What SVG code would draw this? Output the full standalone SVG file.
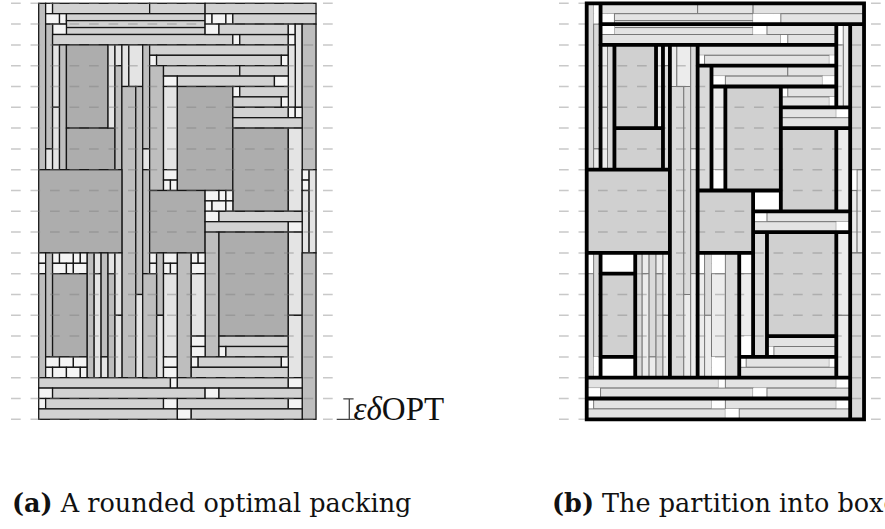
<svg xmlns="http://www.w3.org/2000/svg" xmlns:xlink="http://www.w3.org/1999/xlink" width="885" height="529" viewBox="0 0 885 529">
<style>
.D,.M,.H,.V{stroke:var(--ln);stroke-width:var(--lw)}
.D{fill:var(--d)}
.M{fill:var(--m)}
.H{fill:var(--h)}
.V{fill:var(--v)}
.S{fill:var(--s);stroke:var(--sl);stroke-width:var(--lw)}
.pa{--d:#adadad;--m:#bebebe;--h:#d2d2d2;--v:#e4e4e4;--s:#f4f4f4;--ln:#151515;--sl:#151515;--lw:0.37}
.pb{--d:#d0d0d0;--m:#dadada;--h:#e3e3e3;--v:#ececec;--s:#ffffff;--ln:#767676;--sl:none;--lw:0.28}
.grid{fill:none;stroke:#7f7f7f;stroke-opacity:0.42;stroke-width:1.5;stroke-dasharray:9.7 9.8}
.box{fill:none;stroke:#000;stroke-width:1.1;stroke-linecap:square}
.cap{font-family:"DejaVu Serif",serif;font-size:25.5px;fill:#111}
</style>
<defs>
<!-- item layout in grid units: 80 x 120 container, one unit = 3.4667 px -->
<g id="items">
<rect class="M" x="0" y="0" width="2" height="48"/>
<rect class="S" x="2" y="0" width="2" height="3"/>
<rect class="H" x="4" y="0" width="28" height="3"/>
<rect class="H" x="32" y="0" width="16" height="3"/>
<rect class="H" x="48" y="0" width="32" height="3"/>
<rect class="S" x="2" y="3" width="4" height="3"/>
<rect class="S" x="6" y="3" width="2" height="3"/>
<rect class="H" x="8" y="3" width="40" height="2"/>
<rect class="H" x="8" y="5" width="40" height="2"/>
<rect class="H" x="8" y="7" width="40" height="2"/>
<rect class="S" x="4" y="6" width="4" height="3"/>
<rect class="M" x="2" y="6" width="2" height="36"/>
<rect class="V" x="2" y="42" width="2" height="6"/>
<rect class="H" x="4" y="9" width="52" height="3"/>
<rect class="S" x="56" y="9" width="2" height="3"/>
<rect class="H" x="58" y="9" width="14" height="3"/>
<rect class="S" x="72" y="9" width="2" height="3"/>
<rect class="S" x="48" y="3" width="2" height="3"/>
<rect class="S" x="50" y="3" width="4" height="3"/>
<rect class="S" x="54" y="3" width="2" height="3"/>
<rect class="H" x="56" y="3" width="24" height="3"/>
<rect class="S" x="48" y="6" width="4" height="3"/>
<rect class="H" x="52" y="6" width="20" height="3"/>
<rect class="S" x="72" y="6" width="2" height="3"/>
<rect class="V" x="74" y="6" width="2" height="24"/>
<rect class="M" x="76" y="6" width="4" height="42"/>
<rect class="V" x="4" y="12" width="2" height="18"/>
<rect class="V" x="4" y="30" width="2" height="18"/>
<rect class="M" x="6" y="12" width="2" height="36"/>
<rect class="D" x="8" y="12" width="12" height="24"/>
<rect class="D" x="8" y="36" width="14" height="12"/>
<rect class="V" x="20" y="12" width="2" height="24"/>
<rect class="V" x="22" y="12" width="2" height="6"/>
<rect class="M" x="22" y="18" width="2" height="30"/>
<rect class="V" x="24" y="12" width="2" height="12"/>
<rect class="V" x="26" y="12" width="4" height="12"/>
<rect class="M" x="24" y="24" width="4" height="84"/>
<rect class="M" x="28" y="24" width="2" height="60"/>
<rect class="V" x="28" y="84" width="2" height="24"/>
<rect class="M" x="30" y="12" width="2" height="30"/>
<rect class="V" x="30" y="42" width="2" height="6"/>
<rect class="M" x="30" y="48" width="2" height="30"/>
<rect class="H" x="32" y="12" width="40" height="3"/>
<rect class="S" x="32" y="15" width="2" height="3"/>
<rect class="H" x="34" y="15" width="36" height="3"/>
<rect class="S" x="70" y="15" width="2" height="3"/>
<rect class="V" x="72" y="12" width="2" height="18"/>
<rect class="M" x="32" y="18" width="4" height="36"/>
<rect class="H" x="36" y="18" width="22" height="3"/>
<rect class="H" x="58" y="18" width="14" height="3"/>
<rect class="S" x="36" y="21" width="4" height="3"/>
<rect class="H" x="40" y="21" width="28" height="3"/>
<rect class="S" x="68" y="21" width="4" height="3"/>
<rect class="V" x="36" y="24" width="4" height="24"/>
<rect class="S" x="36" y="48" width="4" height="3"/>
<rect class="S" x="36" y="51" width="2" height="3"/>
<rect class="S" x="38" y="51" width="2" height="3"/>
<rect class="D" x="40" y="24" width="16" height="30"/>
<rect class="S" x="56" y="24" width="2" height="3"/>
<rect class="H" x="58" y="24" width="14" height="3"/>
<rect class="H" x="56" y="27" width="14" height="3"/>
<rect class="S" x="70" y="27" width="2" height="3"/>
<rect class="H" x="56" y="30" width="16" height="3"/>
<rect class="S" x="72" y="30" width="2" height="3"/>
<rect class="S" x="74" y="30" width="2" height="3"/>
<rect class="H" x="56" y="33" width="20" height="3"/>
<rect class="D" x="56" y="36" width="16" height="24"/>
<rect class="V" x="72" y="36" width="4" height="24"/>
<rect class="S" x="76" y="48" width="2" height="3"/>
<rect class="S" x="76" y="51" width="2" height="3"/>
<rect class="V" x="76" y="54" width="2" height="18"/>
<rect class="V" x="78" y="48" width="2" height="24"/>
<rect class="D" x="0" y="48" width="24" height="24"/>
<rect class="D" x="32" y="54" width="16" height="18"/>
<rect class="S" x="48" y="54" width="4" height="3"/>
<rect class="S" x="52" y="54" width="2" height="3"/>
<rect class="S" x="54" y="54" width="2" height="3"/>
<rect class="S" x="48" y="57" width="2" height="3"/>
<rect class="S" x="50" y="57" width="4" height="3"/>
<rect class="S" x="54" y="57" width="2" height="3"/>
<rect class="S" x="48" y="60" width="4" height="3"/>
<rect class="H" x="52" y="60" width="24" height="3"/>
<rect class="H" x="48" y="63" width="24" height="3"/>
<rect class="S" x="72" y="63" width="4" height="3"/>
<rect class="M" x="48" y="66" width="4" height="36"/>
<rect class="D" x="52" y="66" width="20" height="30"/>
<rect class="H" x="52" y="96" width="20" height="3"/>
<rect class="S" x="52" y="99" width="2" height="3"/>
<rect class="H" x="54" y="99" width="18" height="3"/>
<rect class="V" x="72" y="66" width="4" height="24"/>
<rect class="V" x="72" y="90" width="4" height="18"/>
<rect class="M" x="76" y="72" width="4" height="48"/>
<rect class="S" x="0" y="72" width="2" height="3"/>
<rect class="S" x="0" y="75" width="2" height="3"/>
<rect class="M" x="0" y="78" width="2" height="30"/>
<rect class="M" x="2" y="72" width="2" height="30"/>
<rect class="S" x="4" y="72" width="2" height="3"/>
<rect class="S" x="6" y="72" width="4" height="3"/>
<rect class="S" x="10" y="72" width="2" height="3"/>
<rect class="S" x="12" y="72" width="2" height="3"/>
<rect class="S" x="4" y="75" width="4" height="3"/>
<rect class="S" x="8" y="75" width="2" height="3"/>
<rect class="S" x="10" y="75" width="4" height="3"/>
<rect class="D" x="4" y="78" width="10" height="24"/>
<rect class="S" x="2" y="102" width="4" height="3"/>
<rect class="S" x="6" y="102" width="4" height="3"/>
<rect class="S" x="10" y="102" width="4" height="3"/>
<rect class="S" x="2" y="105" width="2" height="3"/>
<rect class="S" x="4" y="105" width="4" height="3"/>
<rect class="S" x="8" y="105" width="4" height="3"/>
<rect class="S" x="12" y="105" width="2" height="3"/>
<rect class="M" x="14" y="72" width="2" height="36"/>
<rect class="V" x="16" y="72" width="2" height="6"/>
<rect class="V" x="16" y="78" width="2" height="30"/>
<rect class="M" x="18" y="72" width="2" height="30"/>
<rect class="V" x="18" y="102" width="2" height="6"/>
<rect class="V" x="20" y="72" width="2" height="6"/>
<rect class="M" x="20" y="78" width="2" height="30"/>
<rect class="V" x="22" y="72" width="2" height="18"/>
<rect class="V" x="22" y="90" width="2" height="18"/>
<rect class="S" x="32" y="72" width="2" height="3"/>
<rect class="S" x="32" y="75" width="2" height="3"/>
<rect class="M" x="34" y="72" width="2" height="18"/>
<rect class="V" x="34" y="90" width="2" height="18"/>
<rect class="S" x="36" y="72" width="4" height="3"/>
<rect class="S" x="36" y="75" width="2" height="3"/>
<rect class="S" x="38" y="75" width="2" height="3"/>
<rect class="V" x="36" y="78" width="4" height="24"/>
<rect class="S" x="36" y="102" width="4" height="3"/>
<rect class="S" x="36" y="105" width="4" height="3"/>
<rect class="M" x="40" y="72" width="4" height="36"/>
<rect class="S" x="44" y="72" width="2" height="3"/>
<rect class="S" x="46" y="72" width="2" height="3"/>
<rect class="S" x="44" y="75" width="4" height="3"/>
<rect class="V" x="44" y="78" width="4" height="18"/>
<rect class="S" x="44" y="96" width="4" height="3"/>
<rect class="S" x="44" y="99" width="4" height="3"/>
<rect class="S" x="44" y="102" width="2" height="3"/>
<rect class="H" x="46" y="102" width="24" height="3"/>
<rect class="S" x="70" y="102" width="2" height="3"/>
<rect class="H" x="44" y="105" width="28" height="3"/>
<rect class="H" x="0" y="108" width="38" height="3"/>
<rect class="S" x="38" y="108" width="2" height="3"/>
<rect class="H" x="40" y="108" width="32" height="3"/>
<rect class="S" x="72" y="108" width="4" height="3"/>
<rect class="S" x="0" y="111" width="4" height="3"/>
<rect class="H" x="4" y="111" width="44" height="3"/>
<rect class="S" x="48" y="111" width="4" height="3"/>
<rect class="H" x="52" y="111" width="24" height="3"/>
<rect class="S" x="0" y="114" width="2" height="3"/>
<rect class="H" x="2" y="114" width="34" height="3"/>
<rect class="S" x="36" y="114" width="4" height="3"/>
<rect class="H" x="40" y="114" width="32" height="3"/>
<rect class="S" x="72" y="114" width="4" height="3"/>
<rect class="H" x="0" y="117" width="40" height="3"/>
<rect class="S" x="40" y="117" width="4" height="3"/>
<rect class="H" x="44" y="117" width="32" height="3"/>
</g>
<!-- dashed height grid, one line every 6 units -->
<path id="gridlines" d="M0 3.3h322M0 24.1h322M0 44.9h322M0 65.7h322M0 86.5h322M0 107.3h322M0 128.1h322M0 148.9h322M0 169.7h322M0 190.5h322M0 211.3h322M0 232.1h322M0 252.9h322M0 273.7h322M0 294.5h322M0 315.3h322M0 336.1h322M0 356.9h322M0 377.7h322M0 398.5h322M0 419.3h322"/>
</defs>

<!-- (a) rounded optimal packing -->
<g id="packing-a">
<g transform="translate(38.7,3.3) scale(3.4667)" class="pa">
<use xlink:href="#items" href="#items"/>
<rect class="M" x="30" y="78" width="4" height="30"/>
</g>
<use xlink:href="#gridlines" href="#gridlines" class="grid" transform="translate(11,0)"/>
<g id="height-marker" fill="none" stroke="#444" stroke-width="1.3">
<path d="M349.3 398.8V419.3M343.3 398.8H353.6M336.7 419.3H355.2"/>
</g>
<text x="353.5" y="419.5" font-family="Liberation Serif, serif" font-size="33" fill="#111"><tspan font-style="italic">εδ</tspan>OPT</text>
</g>

<!-- (b) partition into boxes -->
<g id="packing-b">
<g transform="translate(586.7,3.3) scale(3.4667)" class="pb">
<use xlink:href="#items" href="#items"/>
<rect class="V" x="30" y="78" width="2" height="30"/>
<rect class="V" x="32" y="78" width="2" height="30"/>
</g>
<use xlink:href="#gridlines" href="#gridlines" class="grid" transform="translate(559,0)"/>
<g id="boxes" transform="translate(586.7,3.3) scale(3.4667)">
<path class="box" d="M0 0H80V120H0Z M4 0V48 M4 6H80 M4 12H72 M72 6V30 M76 6V120 M8 12V48 M8 36H22 M20 12V36 M22 12V48 M24 12V108 M32 12V108 M32 18H72 M36 18V54 M36 24H72 M40 24V54 M56 24V60 M56 30H76 M56 36H76 M72 36V60 M32 54H56 M48 54V102 M48 60H76 M48 66H76 M52 66V102 M52 96H72 M72 66V108 M44 102H72 M44 72V108 M0 72H24 M32 72H48 M0 48H24 M4 72V108 M14 72V108 M4 78H14 M4 102H14 M0 108H76 M0 114H76"/>
</g>
</g>

<g id="captions">
<text class="cap" x="12" y="511.5"><tspan font-weight="bold">(a)</tspan> A rounded optimal packing</text>
<text class="cap" x="552" y="511.5"><tspan font-weight="bold">(b)</tspan> The partition into boxes</text>
</g>
</svg>
